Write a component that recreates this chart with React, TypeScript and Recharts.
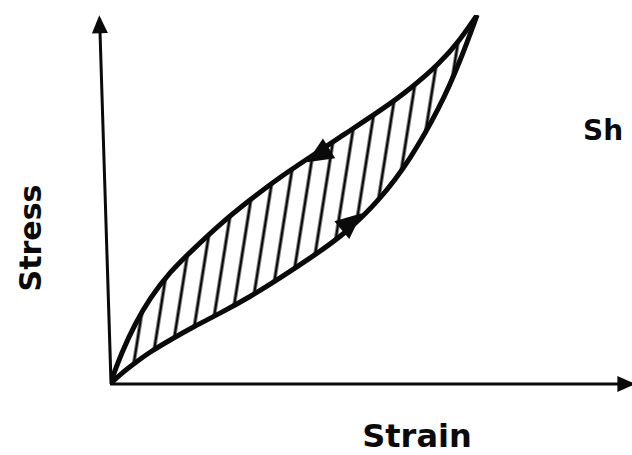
import {
  Area,
  ComposedChart,
  Line,
  ReferenceDot,
  ReferenceLine,
  XAxis,
  YAxis,
} from "recharts";

// strain positions shared by both branches of the loop
const strain = [0, 2.3, 4.8, 7.7, 11.5, 16.3, 21.2, 26.9, 32.7, 38.5, 45.2, 51.9, 57.7, 63.5, 67.3, 70.6];
const upperStress = [0, 8.7, 16.3, 23.3, 30.4, 36.9, 43.4, 49.9, 56.1, 61.5, 67.8, 74.0, 79.9, 87.0, 93.2, 100];
const lowerStress = [0, 3.0, 5.7, 8.7, 11.9, 15.7, 19.2, 23.6, 28.7, 34.1, 40.7, 49.9, 60.7, 75.1, 87.3, 100];

// arrowheads: axis ends and direction marks on the loop
const arrowX = [-2, 99.3, 40, 46.5];
const arrowY = [97.5, 0, 62, 44];
const arrowAngle = [-92, 0, 148, -40];
const arrowSize = [1, 1, 1.45, 1.45];

const data = strain.map((x, i) => ({
  x,
  upper: upperStress[i],
  lower: lowerStress[i],
  band: [lowerStress[i], upperStress[i]],
}));

const INK = "#0a0a0a";

function arrowShape(angle: number, size: number) {
  return (props: any) => {
    const { cx, cy } = props;
    if (cx == null || cy == null) return <g />;
    const len = 18 * size;
    const half = 8 * size;
    return (
      <polygon
        points={`${len / 2},0 ${-len / 2},${-half} ${-len / 2},${half}`}
        fill={INK}
        transform={`translate(${cx},${cy}) rotate(${angle})`}
      />
    );
  };
}

export default function App() {
  return (
    <div style={{ position: "absolute", left: 0, top: 0, background: "#fff" }}>
      <ComposedChart
        width={632}
        height={455}
        data={data}
        margin={{ top: 15, right: 2, bottom: 71, left: 110 }}
      >
        <defs>
          <pattern
            id="hatch"
            patternUnits="userSpaceOnUse"
            width={18}
            height={40}
            patternTransform="rotate(9)"
          >
            <line x1={9} y1={0} x2={9} y2={40} stroke={INK} strokeWidth={3} />
          </pattern>
        </defs>
        <XAxis type="number" dataKey="x" domain={[0, 100]} allowDataOverflow hide />
        <YAxis type="number" domain={[0, 100]} allowDataOverflow hide />
        <ReferenceLine
          segment={[{ x: 0, y: 0 }, { x: 100.5, y: 0 }]}
          stroke={INK}
          strokeWidth={3}
          ifOverflow="visible"
        />
        <ReferenceLine
          segment={[{ x: 0.2, y: 0 }, { x: -2, y: 99 }]}
          stroke={INK}
          strokeWidth={3}
          ifOverflow="visible"
        />
        <Area
          type="basis"
          dataKey="band"
          stroke="none"
          fill="url(#hatch)"
          fillOpacity={1}
          isAnimationActive={false}
        />
        <Line
          type="basis"
          dataKey="upper"
          stroke={INK}
          strokeWidth={5}
          dot={false}
          isAnimationActive={false}
        />
        <Line
          type="basis"
          dataKey="lower"
          stroke={INK}
          strokeWidth={5}
          dot={false}
          isAnimationActive={false}
        />
        {arrowX.map((x, i) => (
          <ReferenceDot
            key={i}
            x={x}
            y={arrowY[i]}
            ifOverflow="visible"
            shape={arrowShape(arrowAngle[i], arrowSize[i])}
          />
        ))}
        <text
          x={30}
          y={238}
          transform="rotate(-90 30 238)"
          textAnchor="middle"
          dominantBaseline="central"
          fontFamily="DejaVu Sans"
          fontWeight="bold"
          fontSize={30}
          fill={INK}
        >
          Stress
        </text>
        <text
          x={417}
          y={447}
          textAnchor="middle"
          fontFamily="DejaVu Sans"
          fontWeight="bold"
          fontSize={32}
          fill={INK}
        >
          Strain
        </text>
        <text
          x={583}
          y={140}
          fontFamily="DejaVu Sans"
          fontWeight="bold"
          fontSize={28}
          fill={INK}
        >
          Sh
        </text>
      </ComposedChart>
    </div>
  );
}
